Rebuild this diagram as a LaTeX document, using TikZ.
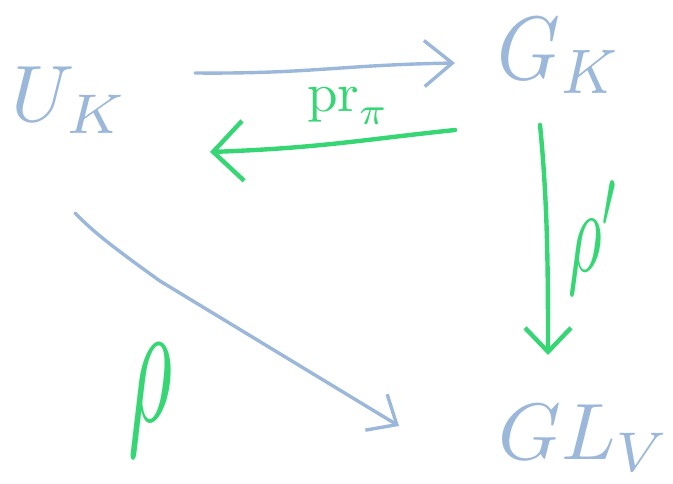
\documentclass[tikz,border=0pt]{standalone}
\usetikzlibrary{arrows.meta,calc}
\definecolor{hblue}{HTML}{9BB7D9}
\definecolor{hgreen}{HTML}{35D673}
\begin{document}
\begin{tikzpicture}[x=1pt,y=-1pt,
  blbl/.style={inner sep=0pt, text=hblue},
  glbl/.style={inner sep=0pt, text=hgreen},
  barrow/.style={draw=hblue, line width=3.4pt, line cap=round, line join=round},
  garrow/.style={draw=hgreen, line width=4.4pt, line cap=round, line join=round}]
\useasboundingbox (0,0) rectangle (673,484);
% objects
\node[blbl] (uk) at (70,100) {\scalebox{8}{$U_K$}};
\node[blbl] (gk) at (560,56) {\scalebox{8}[9]{$G_K$}};
\node[blbl] (glv) at (585,438) {\scalebox{8}{$GL_V$}};
% labels
\node[glbl] (prpi) at (348,106) {\scalebox{5.5}{$\mathrm{pr}_\pi$}};
\node[glbl] (rhop) at (594,238) {\scalebox{6.5}[12]{$\rho'$}};
\node[glbl] (rho) at (150,400) {\scalebox{8.5}[18]{$\rho$}};
% connectors
\draw[barrow, -{Straight Barb[length=28pt,width=46pt,line width=3.4pt]}]
  ($(uk)+(125,-27)$) .. controls ($(uk)+(240,-26)$) and ($(gk)+(-220,9)$) .. ($(gk)+(-105,7)$);
\draw[garrow, -{Straight Barb[length=30pt,width=60pt,line width=4.4pt]}]
  ($(gk)+(-105,74)$) .. controls ($(gk)+(-200,84)$) and ($(uk)+(250,48)$) .. ($(uk)+(140,52)$);
\draw[garrow, -{Straight Barb[length=24pt,width=46pt,line width=4.4pt]}]
  ($(gk)+(-20,69)$) .. controls ($(gk)+(-12,150)$) and ($(glv)+(-37,-160)$) .. ($(glv)+(-37,-83)$);
\draw[barrow, -{Straight Barb[length=24pt,width=42pt,line width=3.4pt]}]
  ($(uk)+(5,113)$) .. controls ($(uk)+(20,128)$) and ($(uk)+(30,138)$) .. ($(uk)+(90,181)$) -- ($(glv)+(-186,-12)$);
\end{tikzpicture}
\end{document}
